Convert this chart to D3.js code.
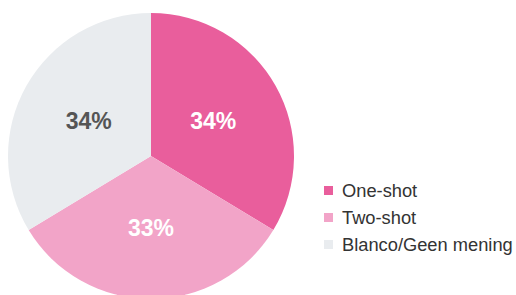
<!DOCTYPE html>
<html>
<head>
<meta charset="utf-8">
<script src="https://cdn.jsdelivr.net/npm/d3@7"></script>
<style>
  body { margin: 0; background: #fff; }
  svg { display: block; }
</style>
</head>
<body>
<svg id="chart"></svg>
<script>
// pie data
var categories = ["One-shot", "Two-shot", "Blanco/Geen mening"];
var values = [34, 33, 34];
var colors = ["#e95e9c", "#f2a4c8", "#e9ecef"];
var labelColors = ["#ffffff", "#ffffff", "#555555"];

var width = 516, height = 295;
var cx = 151, cy = 156, radius = 143;

var svg = d3.select("#chart")
    .attr("width", width)
    .attr("height", height);

var pie_g = svg.append("g")
    .attr("transform", "translate(" + cx + "," + cy + ")");

var pie = d3.pie().sort(null).value(function(d) { return d; });
var arcs = pie(values);

var arc = d3.arc().innerRadius(0).outerRadius(radius);
var labelArc = d3.arc().innerRadius(0).outerRadius(radius);

pie_g.selectAll("path")
    .data(arcs)
    .enter()
    .append("path")
        .attr("d", arc)
        .attr("fill", function(d, i) { return colors[i]; });

// percentage labels
pie_g.selectAll("text")
    .data(arcs)
    .enter()
    .append("text")
        .attr("transform", function(d) {
            var c = labelArc.centroid(d);
            return "translate(" + c[0] + "," + c[1] + ")";
        })
        .attr("text-anchor", "middle")
        .attr("dy", "0.36em")
        .style("font-family", "'Liberation Sans', Arial, sans-serif")
        .style("font-weight", 700)
        .style("font-size", "23px")
        .attr("fill", function(d, i) { return labelColors[i]; })
        .text(function(d) { return d.value + "%"; });

// legend
var legend = svg.append("g")
    .attr("transform", "translate(324,186)");

var rows = legend.selectAll("g")
    .data(categories)
    .enter()
    .append("g")
        .attr("transform", function(d, i) { return "translate(0," + (i * 27) + ")"; });

rows.append("rect")
    .attr("width", 9)
    .attr("height", 9)
    .attr("fill", function(d, i) { return colors[i]; });

rows.append("text")
    .attr("x", 18)
    .attr("y", 11)
    .style("font-family", "'Liberation Sans', Arial, sans-serif")
    .style("font-size", "18.3px")
    .attr("fill", "#333")
    .text(function(d) { return d; });
</script>
</body>
</html>
